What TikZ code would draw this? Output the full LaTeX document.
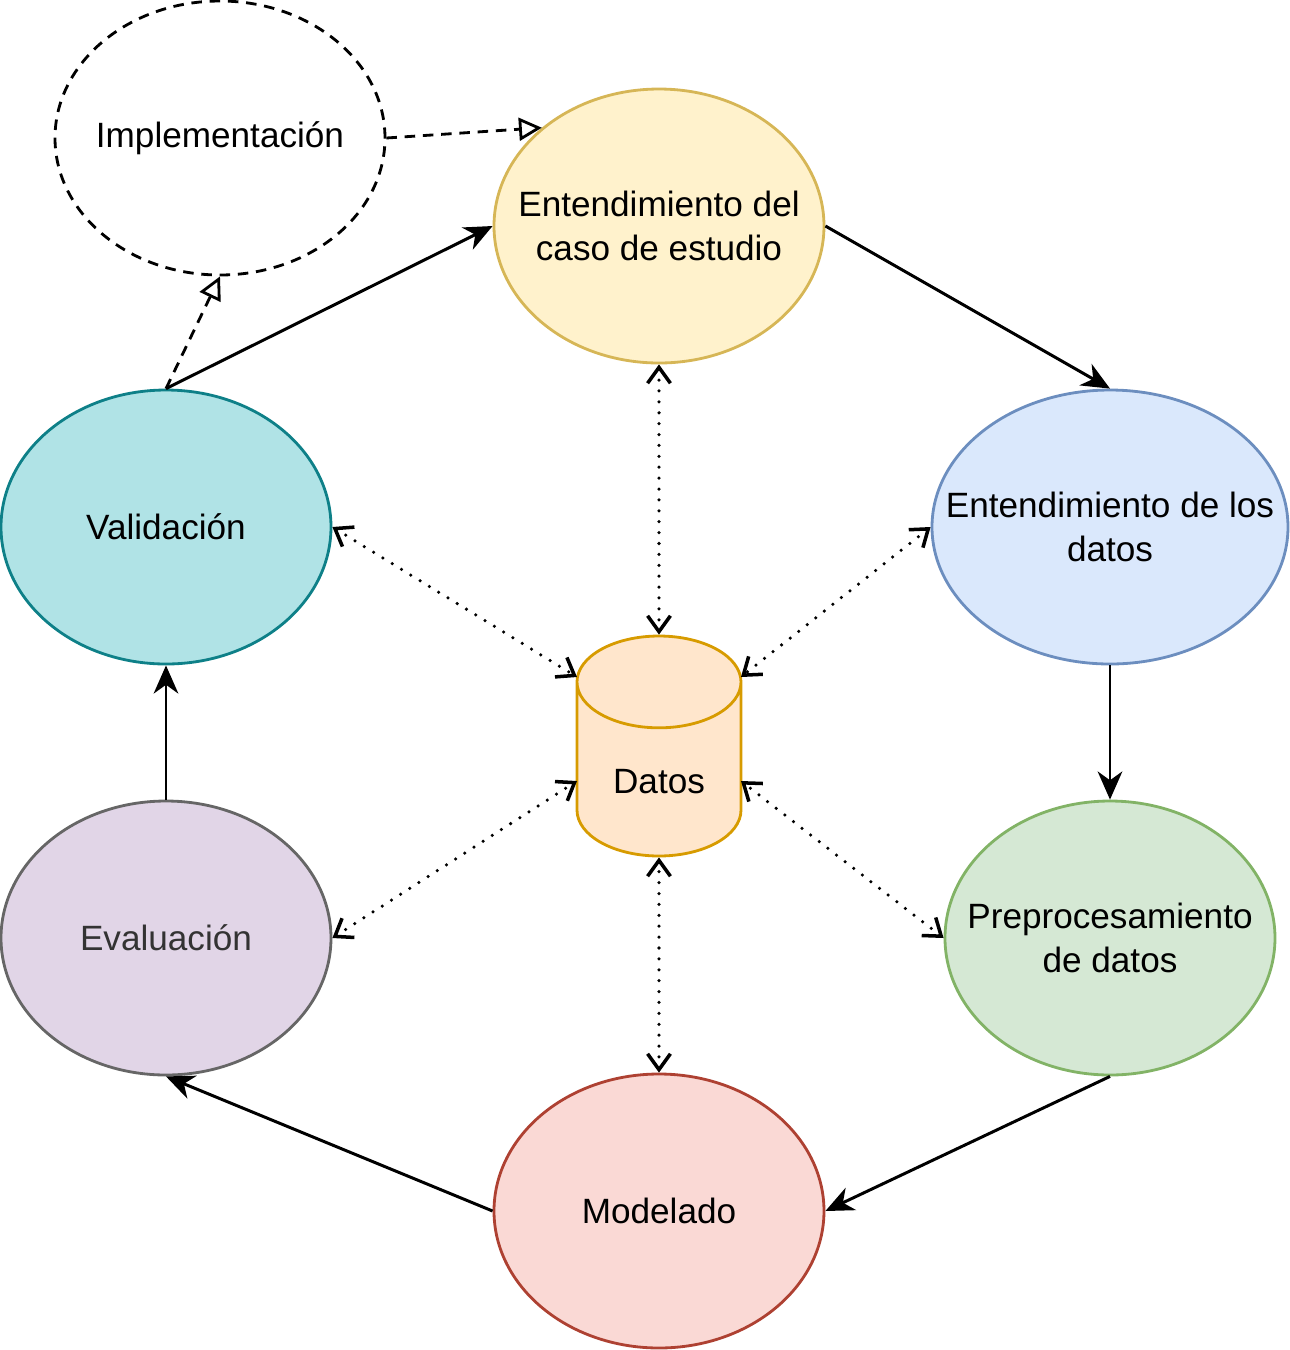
\documentclass[tikz,border=0pt]{standalone}
\usepackage{fontspec}
\setmainfont{Liberation Sans}
\usepackage{xcolor}
\usepackage{tikz}
\usetikzlibrary{arrows.meta,positioning,shapes.geometric,calc}
\definecolor{casofill}{HTML}{FFF2CC}
\definecolor{casodraw}{HTML}{D6B656}
\definecolor{datosfill}{HTML}{DAE8FC}
\definecolor{datosdraw}{HTML}{6C8EBF}
\definecolor{prepfill}{HTML}{D5E8D4}
\definecolor{prepdraw}{HTML}{82B366}
\definecolor{modfill}{HTML}{FAD9D5}
\definecolor{moddraw}{HTML}{AE4132}
\definecolor{evalfill}{HTML}{E1D5E7}
\definecolor{evaldraw}{HTML}{666666}
\definecolor{valfill}{HTML}{B0E3E6}
\definecolor{valdraw}{HTML}{0E8088}
\definecolor{dbfill}{HTML}{FFE6CC}
\definecolor{dbdraw}{HTML}{D79B00}

\begin{document}
\begin{tikzpicture}[
  every node/.style={font=\fontsize{10}{12.5}\selectfont},
  phase/.style={ellipse, draw, line width=0.8pt, inner xsep=-1.2cm, inner ysep=0pt, align=center, minimum width=3.3cm, minimum height=2.74cm},
  flow/.style={-{Stealth[length=8pt,width=7pt,inset=2.5pt]}, line width=0.85pt},
  link/.style={{Straight Barb[length=4.5pt,width=6.5pt]}-{Straight Barb[length=4.5pt,width=6.5pt]}, dash pattern=on 0pt off 3.1pt, line cap=round, line width=1pt},
  deploy/.style={-{Triangle[open,length=6.5pt,width=6.5pt]}, dash pattern=on 3pt off 2.2pt, line width=0.8pt}
]
  % canvas
  \useasboundingbox (0,0) rectangle (12.9,-13.5);

  % Phases of the cycle
  \node[phase, dash pattern=on 3pt off 2.2pt] (impl) at (2.20,-1.38) {Implementación};
  \node[phase, fill=casofill, draw=casodraw] (caso) at (6.59,-2.26) {Entendimiento del\\caso de estudio};
  \node[phase, fill=datosfill, draw=datosdraw, minimum width=3.56cm] (datos) at (11.10,-5.27) {Entendimiento de los\\datos};
  \node[phase, fill=prepfill, draw=prepdraw] (prep) at (11.10,-9.38) {Preprocesamiento\\de datos};
  \node[phase, fill=modfill, draw=moddraw] (model) at (6.59,-12.11) {Modelado};
  \node[phase, fill=evalfill, draw=evaldraw, text=black!80] (eval) at (1.66,-9.38) {Evaluación};
  \node[phase, fill=valfill, draw=valdraw] (valid) at (1.66,-5.27) {Validación};

  % Data store in the middle
  \node[cylinder, shape border rotate=90, aspect=1, draw=dbdraw, fill=dbfill, line width=0.8pt,
        minimum width=1.64cm, minimum height=2.2cm, inner sep=0pt, anchor=shape center] (db) at (6.59,-7.46) {\raisebox{-0.24cm}[0pt][0pt]{Datos}};
  \coordinate (dbnw) at ($(db.shape center)+(-0.82,0.69)$);
  \coordinate (dbne) at ($(db.shape center)+(0.82,0.69)$);
  \coordinate (dbsw) at ($(db.shape center)+(-0.82,-0.35)$);
  \coordinate (dbse) at ($(db.shape center)+(0.82,-0.35)$);

  % Main cycle
  \draw[flow] (valid.north) -- (caso.west);
  \draw[flow] (caso.east) -- (datos.north);
  \draw[flow] (datos.south) -- (prep.north);
  \draw[flow] (prep.south) -- (model.east);
  \draw[flow] (model.west) -- (eval.south);
  \draw[flow] (eval.north) -- (valid.south);

  % Deployment (dashed)
  \draw[deploy] (impl.east) -- (caso.140);
  \draw[deploy] (valid.north) -- (impl.south);

  % Links to the data store
  \draw[link] (caso.south) -- (db.north);
  \draw[link] (valid.east) -- (dbnw);
  \draw[link] (datos.west) -- (dbne);
  \draw[link] (eval.east) -- (dbsw);
  \draw[link] (prep.west) -- (dbse);
  \draw[link] (model.north) -- (db.south);

\end{tikzpicture}
\end{document}
